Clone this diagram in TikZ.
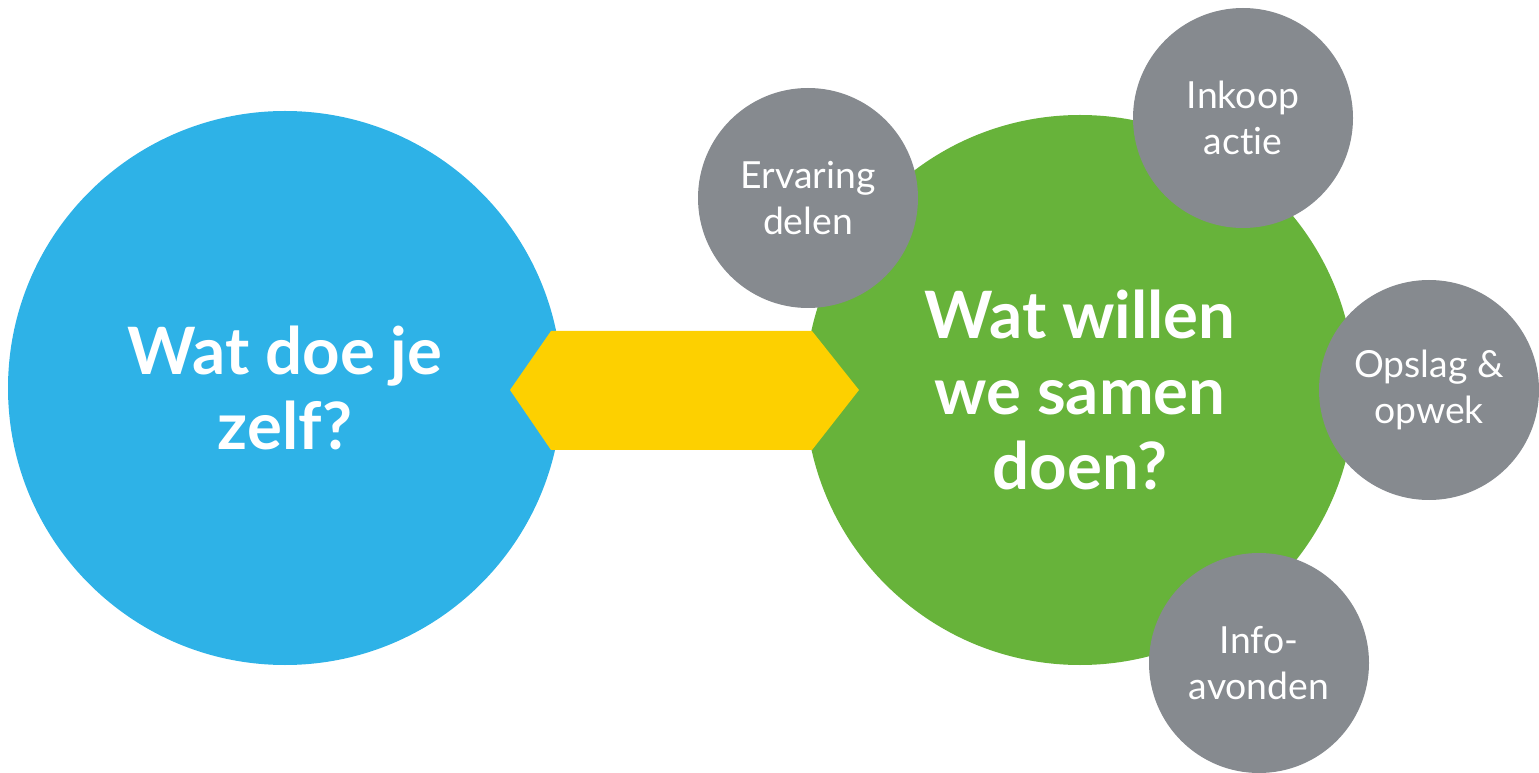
\documentclass[tikz,border=0pt]{standalone}
\usepackage{fontspec}
\setmainfont{Lato}[Ligatures=CommonOff]
\definecolor{zelfblue}{RGB}{46,178,231}
\definecolor{samengreen}{RGB}{103,179,58}
\definecolor{bridgeyellow}{RGB}{253,208,0}
\definecolor{topicgray}{RGB}{134,138,143}
\tikzset{every picture/.style={line width=0.75pt}}
\tikzset{
  bigcirc/.style={circle,inner sep=0pt,text=white,align=center,
    font=\fontsize{49}{56.5}\selectfont\bfseries},
  smallcirc/.style={circle,fill=topicgray,inner sep=0pt,minimum size=165pt,
    text=white,align=center,font=\fontsize{28}{35}\selectfont}
}

\begin{document}
\begin{tikzpicture}[x=0.75pt,y=0.75pt,yscale=-1,xscale=1]
\useasboundingbox (0,0) rectangle (1539,773);
%Shape: Circle [id:zelf]
\node [bigcirc,fill=zelfblue,minimum size=415.5pt] (zelf) at (285,388) {Wat doe je\\zelf?};
%Shape: Circle [id:samen]
\node [bigcirc,fill=samengreen,minimum size=412.5pt] (samen) at (1080,390) {Wat willen\\we samen\\doen?};
%Shape: Hexagon [id:bridge]
\fill [bridgeyellow] (510,390) -- (551,331) -- (812,331) -- (859,390) -- (812,450) -- (551,450) -- cycle ;
%Shape: Circle [id:ervaring]
\node [smallcirc] (ervaring) at (808,198) {Ervaring\\delen};
%Shape: Circle [id:inkoop]
\node [smallcirc] (inkoop) at (1243,118) {Inkoop\\actie};
%Shape: Circle [id:opslag]
\node [smallcirc] (opslag) at (1429,390) {Opslag \&\\opwek};
%Shape: Circle [id:info]
\node [smallcirc] (info) at (1259,663) {Info-\\avonden};
\end{tikzpicture}
\end{document}
